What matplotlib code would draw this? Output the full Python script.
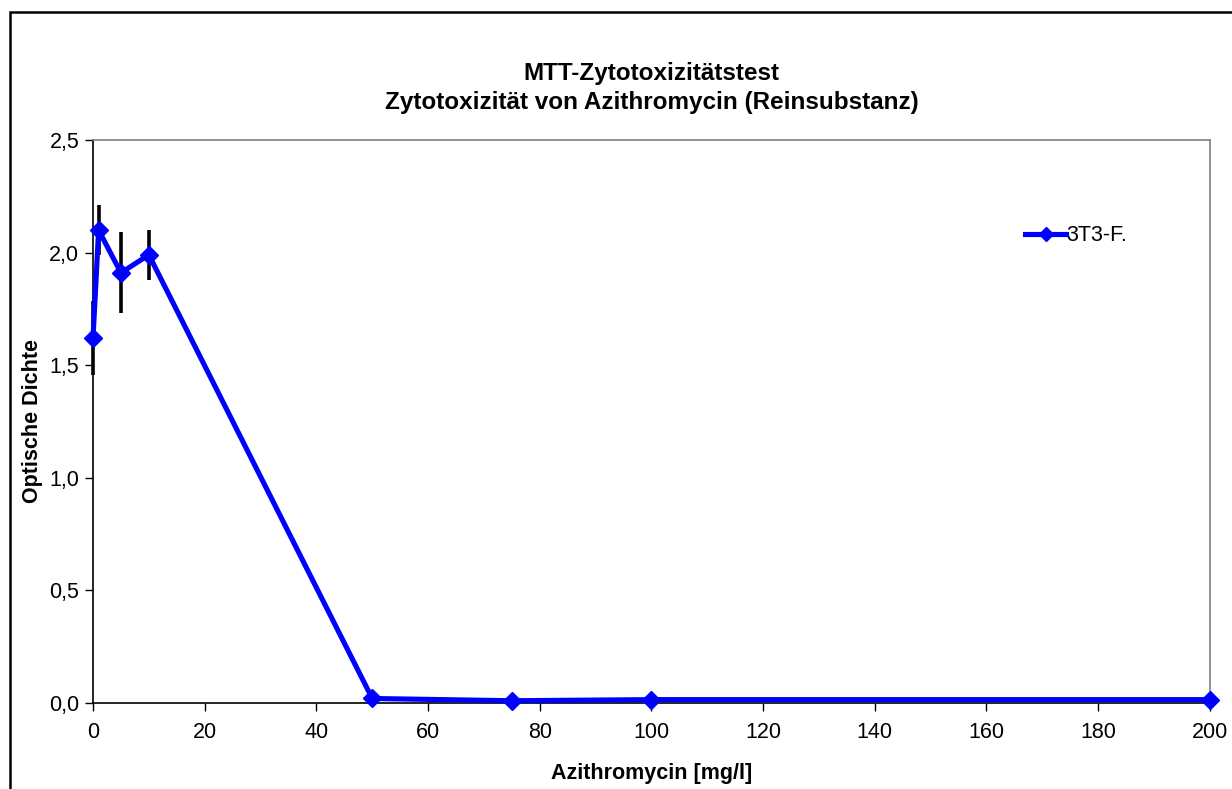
import matplotlib.pyplot as plt
from matplotlib.patches import Rectangle
from matplotlib.ticker import FuncFormatter

plt.rcParams['font.family'] = ['Liberation Sans', 'DejaVu Sans']

# Azithromycin-Konzentration [mg/l] und gemessene OD
konz = [0, 1, 5, 10, 50, 75, 100, 200]
od = [1.62, 2.10, 1.91, 1.99, 0.02, 0.01, 0.015, 0.015]
od_sd = [0.165, 0.11, 0.18, 0.11, 0, 0, 0, 0]

fig = plt.figure(figsize=(12.32, 7.89), dpi=100)
ax = fig.add_axes([0.0755, 0.109, 0.9065, 0.7136])

# Rahmen um das Diagramm
fig.patches.append(Rectangle((0.0081, -0.1), 1.2, 1.0848, transform=fig.transFigure,
                             fill=False, edgecolor='black', linewidth=1.8))

eb = ax.errorbar(konz, od, yerr=od_sd, fmt='none', ecolor='black', elinewidth=2.6,
                 capsize=0, zorder=2)
for coll in eb[2]:
    coll.set_clip_on(False)
ax.plot(konz, od, color='#0000FF', linewidth=3.7, marker='D', markersize=9,
        label='3T3-F.', zorder=3, clip_on=False)

ax.set_xlim(0, 200)
ax.set_ylim(0, 2.5)
ax.set_xticks(range(0, 201, 20))
ax.set_yticks([0, 0.5, 1.0, 1.5, 2.0, 2.5])
ax.yaxis.set_major_formatter(FuncFormatter(lambda v, p: f'{v:.1f}'.replace('.', ',')))
ax.tick_params(labelsize=15.5, direction='out', length=6, width=1)
ax.tick_params(axis='y', pad=4)
ax.tick_params(axis='x', pad=8)

for s in ['top', 'right']:
    ax.spines[s].set_color('#808080')
    ax.spines[s].set_linewidth(1.2)
for s in ['left', 'bottom']:
    ax.spines[s].set_color('black')
    ax.spines[s].set_linewidth(1.2)

ax.set_title('MTT-Zytotoxizitätstest\nZytotoxizität von Azithromycin (Reinsubstanz)',
             fontsize=17.5, fontweight='bold', pad=22, linespacing=1.35)
ax.set_xlabel('Azithromycin [mg/l]', fontsize=15.5, fontweight='bold', labelpad=14)
ax.set_ylabel('Optische Dichte', fontsize=15.5, fontweight='bold')
ax.yaxis.set_label_coords(-0.045, 0.5)

ax.legend(loc='center left', bbox_to_anchor=(0.825, 0.83), frameon=False,
          fontsize=15.5, handlelength=1.9, handletextpad=0.0, markerscale=0.75,
          borderpad=0)

fig.savefig('out.png', dpi=100)
